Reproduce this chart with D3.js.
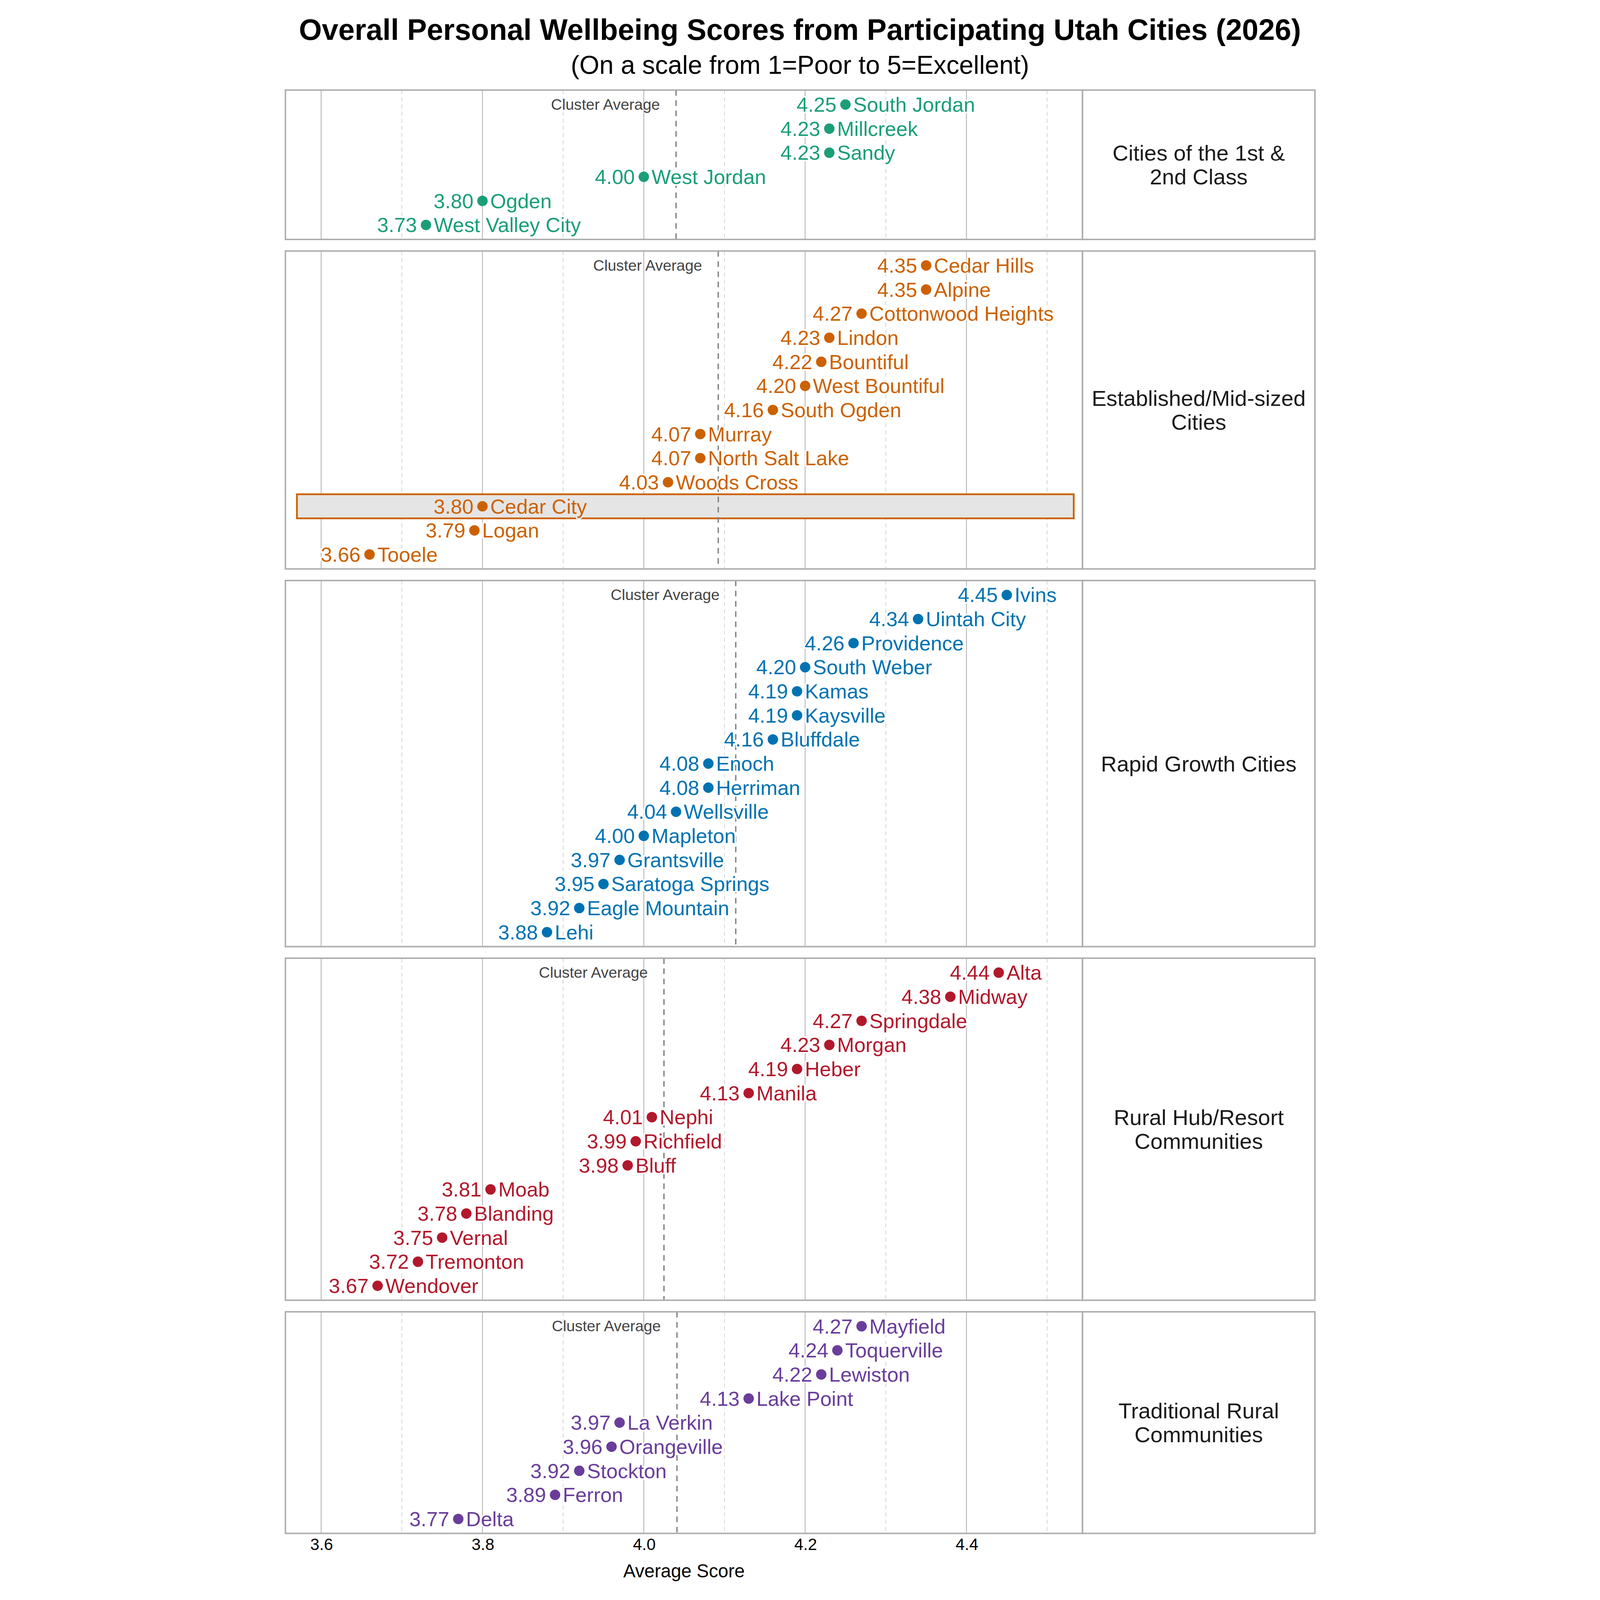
<!DOCTYPE html>
<html>
<head>
<meta charset="utf-8">
<script src="https://cdn.jsdelivr.net/npm/d3@7"></script>
<style>
  html, body { margin: 0; padding: 0; background: #fff; overflow: hidden; }
  svg { display: block; }
  text { font-family: "Liberation Sans", Arial, sans-serif; }
</style>
</head>
<body>
<script>
// ---- data (top to bottom as drawn) ----
const clusterNames = [
  "Cities of the 1st & 2nd Class",
  "Established/Mid-sized Cities",
  "Rapid Growth Cities",
  "Rural Hub/Resort Communities",
  "Traditional Rural Communities"
];
const stripLines = [
  ["Cities of the 1st &", "2nd Class"],
  ["Established/Mid-sized", "Cities"],
  ["Rapid Growth Cities"],
  ["Rural Hub/Resort", "Communities"],
  ["Traditional Rural", "Communities"]
];
const clusterColors = ["#1b9e77", "#cc6100", "#0072b2", "#b2182b", "#6a3d9a"];

const cities1 = ["South Jordan", "Millcreek", "Sandy", "West Jordan", "Ogden", "West Valley City"];
const scores1 = [4.25, 4.23, 4.23, 4.00, 3.80, 3.73];

const cities2 = ["Cedar Hills", "Alpine", "Cottonwood Heights", "Lindon", "Bountiful", "West Bountiful",
  "South Ogden", "Murray", "North Salt Lake", "Woods Cross", "Cedar City", "Logan", "Tooele"];
const scores2 = [4.35, 4.35, 4.27, 4.23, 4.22, 4.20, 4.16, 4.07, 4.07, 4.03, 3.80, 3.79, 3.66];

const cities3 = ["Ivins", "Uintah City", "Providence", "South Weber", "Kamas", "Kaysville", "Bluffdale",
  "Enoch", "Herriman", "Wellsville", "Mapleton", "Grantsville", "Saratoga Springs", "Eagle Mountain", "Lehi"];
const scores3 = [4.45, 4.34, 4.26, 4.20, 4.19, 4.19, 4.16, 4.08, 4.08, 4.04, 4.00, 3.97, 3.95, 3.92, 3.88];

const cities4 = ["Alta", "Midway", "Springdale", "Morgan", "Heber", "Manila", "Nephi", "Richfield",
  "Bluff", "Moab", "Blanding", "Vernal", "Tremonton", "Wendover"];
const scores4 = [4.44, 4.38, 4.27, 4.23, 4.19, 4.13, 4.01, 3.99, 3.98, 3.81, 3.78, 3.75, 3.72, 3.67];

const cities5 = ["Mayfield", "Toquerville", "Lewiston", "Lake Point", "La Verkin", "Orangeville",
  "Stockton", "Ferron", "Delta"];
const scores5 = [4.27, 4.24, 4.22, 4.13, 3.97, 3.96, 3.92, 3.89, 3.77];

const highlightCity = "Cedar City";
const highlightSpan = [3.57, 4.533];   // score range of the highlight box
const xDomain = [3.5557, 4.5439];

const cityLists = [cities1, cities2, cities3, cities4, cities5];
const scoreLists = [scores1, scores2, scores3, scores4, scores5];

// ---- layout (in 1042 x 1563 units, fitted to the window) ----
const W = 1042, H = 1563;
const unit = 23.53, gap = 11.3, top0 = 88;
const plotL = 18.3, plotR = 797, stripR = 1024;
const font = 20, border = "#ababab";

const svg = d3.select("body").append("svg")
    .attr("viewBox", [0, 0, W, H])
    .attr("preserveAspectRatio", "xMidYMid meet")
    .style("width", "100vw").style("height", "100vh");

svg.append("rect").attr("width", W).attr("height", H).attr("fill", "#fff");

const x = d3.scaleLinear().domain(xDomain).range([plotL, plotR]);
const majors = x.ticks(5);
const minors = x.ticks(10).filter(v => Math.round(v * 10) % 2 === 1);

// title
svg.append("text")
    .attr("x", W / 2).attr("y", 39)
    .attr("text-anchor", "middle")
    .attr("font-size", 28.8).attr("font-weight", "bold")
    .text("Overall Personal Wellbeing Scores from Participating Utah Cities (2026)");
svg.append("text")
    .attr("x", W / 2).attr("y", 72)
    .attr("text-anchor", "middle")
    .attr("font-size", 25.1)
    .text("(On a scale from 1=Poor to 5=Excellent)");

let panelTop = top0;
clusterNames.forEach((cluster, ci) => {
  const names = cityLists[ci], vals = scoreLists[ci];
  const rows = names.map((n, i) => ({city: n, score: vals[i]}));
  const h = (rows.length + 0.2) * unit;
  const color = clusterColors[ci];
  const avg = d3.mean(vals);
  const t0 = panelTop;

  const y = d3.scalePoint()
      .domain(names)
      .range([t0, t0 + h])
      .padding(0.6);

  const g = svg.append("g").attr("class", "panel");

  // grid
  g.selectAll(".minor").data(minors).join("line")
      .attr("x1", d => x(d)).attr("x2", d => x(d))
      .attr("y1", t0).attr("y2", t0 + h)
      .attr("stroke", "#c9c9c9").attr("stroke-width", 0.6)
      .attr("stroke-dasharray", "4,3");
  g.selectAll(".major").data(majors).join("line")
      .attr("x1", d => x(d)).attr("x2", d => x(d))
      .attr("y1", t0).attr("y2", t0 + h)
      .attr("stroke", "#b3b3b3").attr("stroke-width", 0.8);

  // highlight box
  rows.filter(d => d.city === highlightCity).forEach(d => {
    g.append("rect")
        .attr("x", x(highlightSpan[0]))
        .attr("y", y(d.city) - unit / 2)
        .attr("width", x(highlightSpan[1]) - x(highlightSpan[0]))
        .attr("height", unit)
        .attr("fill", "#e5e5e5")
        .attr("stroke", color).attr("stroke-width", 1.7);
  });

  // cluster average
  g.append("line")
      .attr("x1", x(avg)).attr("x2", x(avg))
      .attr("y1", t0).attr("y2", t0 + h)
      .attr("stroke", "#808080").attr("stroke-width", 1.3)
      .attr("stroke-dasharray", "5.5,4.5");
  g.append("text")
      .attr("x", x(avg - 0.02)).attr("y", y(names[0]) + 5)
      .attr("text-anchor", "end")
      .attr("font-size", 15).attr("fill", "#444")
      .text("Cluster Average");

  // points and labels
  const pt = g.selectAll(".pt").data(rows).join("g");
  pt.append("text")
      .attr("x", d => x(d.score) - 8.8)
      .attr("y", d => y(d.city) + 7)
      .attr("text-anchor", "end")
      .attr("font-size", font).attr("fill", color)
      .attr("stroke", d => d.city === highlightCity ? "#e5e5e5" : "#fff")
      .attr("stroke-width", 3).attr("paint-order", "stroke")
      .attr("stroke-linejoin", "round")
      .text(d => d3.format(".2f")(d.score));
  pt.append("text")
      .attr("x", d => x(d.score) + 7.6)
      .attr("y", d => y(d.city) + 7)
      .attr("font-size", font).attr("fill", color)
      .attr("stroke", d => d.city === highlightCity ? "#e5e5e5" : "#fff")
      .attr("stroke-width", 3).attr("paint-order", "stroke")
      .attr("stroke-linejoin", "round")
      .text(d => d.city);
  pt.append("circle")
      .attr("cx", d => x(d.score)).attr("cy", d => y(d.city))
      .attr("r", 5.1).attr("fill", color);

  // panel border
  g.append("rect")
      .attr("x", plotL).attr("y", t0)
      .attr("width", plotR - plotL).attr("height", h)
      .attr("fill", "none").attr("stroke", border).attr("stroke-width", 1.4);

  // strip
  g.append("rect")
      .attr("x", plotR).attr("y", t0)
      .attr("width", stripR - plotR).attr("height", h)
      .attr("fill", "#fff").attr("stroke", border).attr("stroke-width", 1.4);
  const lines = stripLines[ci];
  const lh = 23.2, cy = t0 + h / 2;
  g.append("text")
      .attr("x", (plotR + stripR) / 2)
      .attr("text-anchor", "middle")
      .attr("font-size", 21.5).attr("fill", "#1a1a1a")
    .selectAll("tspan").data(lines).join("tspan")
      .attr("x", (plotR + stripR) / 2)
      .attr("y", (d, i) => cy + (i - (lines.length - 1) / 2) * lh + 7.6)
      .text(d => d);

  panelTop += h + gap;
});

const bottom = panelTop - gap;

// x axis
const gx = svg.append("g")
    .attr("transform", `translate(0,${bottom})`)
    .call(d3.axisBottom(x).tickValues(majors).tickFormat(d3.format(".1f"))
      .tickSize(0).tickPadding(5))
    .call(g => g.select(".domain").remove());
gx.selectAll("text")
    .attr("font-size", 16).attr("fill", "#000")
    .attr("font-family", "'Liberation Sans', Arial, sans-serif");

svg.append("text")
    .attr("x", (plotL + plotR) / 2).attr("y", 1541)
    .attr("text-anchor", "middle")
    .attr("font-size", 18)
    .text("Average Score");
</script>
</body>
</html>
